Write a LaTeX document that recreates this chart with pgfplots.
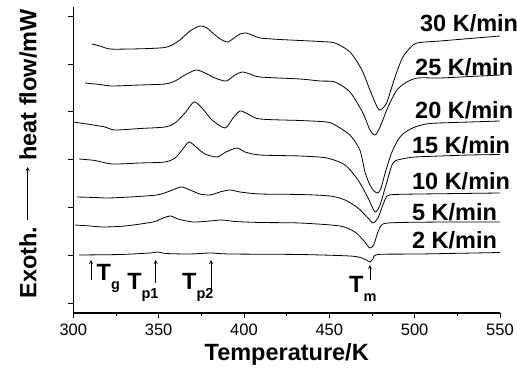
\documentclass[border=0pt]{standalone}
\usepackage{pgfplots}
\pgfplotsset{compat=1.18}
\usepackage{pgfplotstable}
\usepackage{fontspec}
\setmainfont{Liberation Sans}
\pgfplotstableread{
T Y
311.0 269
315.6 267
321.5 264
333.2 264
344.9 264.5
353.7 265.5
357.8 268
362.5 273
368.4 282
374.2 287
378.3 285
383.0 278
387.1 273
390.6 271
394.1 275
397.7 279
401.2 280
404.7 278
409.4 275
421.1 273.5
432.8 272.5
444.5 271.5
453.3 270
462.1 261
469.1 243
473.8 223
478.0 206
479.7 203
481.4 205
483.8 211
488.5 236
493.1 256
499.0 268
503.1 270.5
514.8 272
532.4 274.5
550 277
}\rateA
\pgfplotstableread{
T Y
306.9 230
315.6 228.5
322.7 227
339.1 228
353.7 229
359.6 232
365.4 238
371.9 243
377.2 240
383.0 235
389.5 232
394.7 238
398.8 241
403.5 239
409.4 236
432.8 234
444.5 232
453.3 231
462.1 221
469.7 200
473.8 183
476.8 178
479.7 186
484.4 206
489.6 223
495.4 231
501.9 235
514.8 235
532.4 236.5
550 238
}\rateB
\pgfplotstableread{
T Y
300 191
309.8 188.5
318.6 186
324.4 183
339.1 184.5
353.7 186
359.6 190
365.4 200
370.7 211
375.4 205
381.3 193
388.9 185
393.6 195
397.7 202
402.3 199
409.4 194
432.8 192.5
448.6 191
453.3 188
462.1 178
467.9 163
470.9 141
473.8 128
476.2 122
478.5 120
480.3 125
483.2 143
486.7 161
490.2 173
493.1 179
495.5 182
500.2 186
509.0 189.5
532.4 191
550 192
}\rateC
\pgfplotstableread{
T Y
303.3 154
312.7 152.5
322.7 149
339.1 150
353.7 151
359.6 155
363.7 163
367.8 171
371.9 166
377.2 159
384.2 156
389.5 161
395.9 165
400.6 161
409.4 158
432.8 157
448.6 155
459.2 148
466.8 133
472.7 115
476.8 101
479.7 108
483.2 128
487.3 150
492.6 154
500.2 156
514.8 157
532.4 158
550 158.5
}\rateD
\pgfplotstableread{
T Y
302.2 116
312.7 115.5
320.3 115
333.2 116
349.0 118
356.6 122
363.1 126
368.4 123
374.2 119
380.1 118
385.9 121
391.8 123
397.7 121
409.4 119
432.8 118.5
450.4 117
459.2 113
466.8 105
472.7 95
475.6 90
478.5 95
481.4 108
483.8 117
488.5 118.5
503.1 119
526.5 119.5
550 120
}\rateE
\pgfplotstableread{
T Y
301.0 88
309.8 87
317.4 86
330.3 87
346.7 91
352.5 95
357.2 97
361.3 94
370.1 91
380.1 92
387.1 93
394.7 91.5
409.4 90.5
432.8 90
456.2 87
465.0 81
470.3 72
473.8 65
476.2 69
478.5 81
481.4 89
491.4 90.5
520.7 91
550 91
}\rateF
\pgfplotstableread{
T Y
303.3 58
327.4 58.5
344.9 60
349.6 61
354.3 59.5
368.4 59
380.1 60
391.8 59
432.8 58.5
462.1 57
469.1 55
472.7 52
473.8 51
475.6 54
478.5 58.5
503.1 59
550 60.5
}\rateG
\newcommand{\bigbf}{\fontsize{23.5}{26}\selectfont\bfseries}
\newcommand{\subtx}[1]{\raisebox{-9pt}{\fontsize{14.5}{15}\selectfont\bfseries #1}}
\begin{document}
\begin{tikzpicture}
\path[use as bounding box] (-73.3pt,-56pt) rectangle (443.7pt,313pt);
\begin{axis}[
  at={(0pt,0pt)}, anchor=south west,
  scale only axis, width=426.7pt, height=306pt,
  xmin=300, xmax=550, ymin=0, ymax=306,
  axis x line*=bottom, axis y line*=left,
  axis line style={-, line width=1.1pt},
  xtick={300,350,400,450,500,550},
  minor x tick num=1,
  ytick={10,57.8,105.6,153.4,201.2,249,296.8},
  yticklabels={},
  tick align=outside,
  major tick length=5pt, minor tick length=3pt,
  every tick/.style={black, line width=0.9pt},
  /pgf/number format/assume math mode=true,
  xticklabel style={font=\fontsize{16.5}{18}\selectfont, yshift=-2.5pt},
  clip=false,
]
\addplot[black, line width=0.8pt, smooth, tension=0.45] table[x=T,y=Y] {\rateA};
\addplot[black, line width=0.8pt, smooth, tension=0.45] table[x=T,y=Y] {\rateB};
\addplot[black, line width=0.8pt, smooth, tension=0.45] table[x=T,y=Y] {\rateC};
\addplot[black, line width=0.8pt, smooth, tension=0.45] table[x=T,y=Y] {\rateD};
\addplot[black, line width=0.8pt, smooth, tension=0.45] table[x=T,y=Y] {\rateE};
\addplot[black, line width=0.8pt, smooth, tension=0.45] table[x=T,y=Y] {\rateF};
\addplot[black, line width=0.8pt, smooth, tension=0.45] table[x=T,y=Y] {\rateG};
\node[anchor=base west, inner sep=0pt, font=\bigbf] at (axis cs:503.1,281) {30 K/min};
\node[anchor=base west, inner sep=0pt, font=\bigbf] at (axis cs:500.2,237) {25 K/min};
\node[anchor=base west, inner sep=0pt, font=\bigbf] at (axis cs:500.2,194) {20 K/min};
\node[anchor=base west, inner sep=0pt, font=\bigbf] at (axis cs:498.4,159) {15 K/min};
\node[anchor=base west, inner sep=0pt, font=\bigbf] at (axis cs:498.4,123) {10 K/min};
\node[anchor=base west, inner sep=0pt, font=\bigbf] at (axis cs:498.4,92) {5 K/min};
\node[anchor=base west, inner sep=0pt, font=\bigbf] at (axis cs:498.4,64) {2 K/min};
\draw[-stealth, line width=0.8pt] (axis cs:310.4,33) -- (axis cs:310.4,53);
\draw[-stealth, line width=0.8pt] (axis cs:348.3,30) -- (axis cs:348.3,53);
\draw[-stealth, line width=0.8pt] (axis cs:380.7,20) -- (axis cs:380.7,53);
\draw[-stealth, line width=0.8pt] (axis cs:473.8,33) -- (axis cs:473.8,48);
\node[anchor=base west, inner sep=0pt, font=\bigbf] at (axis cs:313.6,32) {T\subtx{g}};
\node[anchor=base west, inner sep=0pt, font=\bigbf] at (axis cs:331.5,23) {T\subtx{p1}};
\node[anchor=base west, inner sep=0pt, font=\bigbf] at (axis cs:363.7,23) {T\subtx{p2}};
\node[anchor=base west, inner sep=0pt, font=\bigbf] at (axis cs:461.5,20) {T\subtx{m}};
\end{axis}
\node[rotate=90, font=\bigbf, inner sep=0pt] at (-45.3pt,50.5pt) {Exoth.};
\draw[-stealth, line width=0.8pt] (-45.6pt,93pt) -- (-45.6pt,146pt);
\node[rotate=90, font=\bigbf, inner sep=0pt] at (-45.3pt,228pt) {heat flow/mW};
\node[font=\bigbf, inner sep=0pt] at (213.4pt,-41pt) {Temperature/K};
\end{tikzpicture}
\end{document}
